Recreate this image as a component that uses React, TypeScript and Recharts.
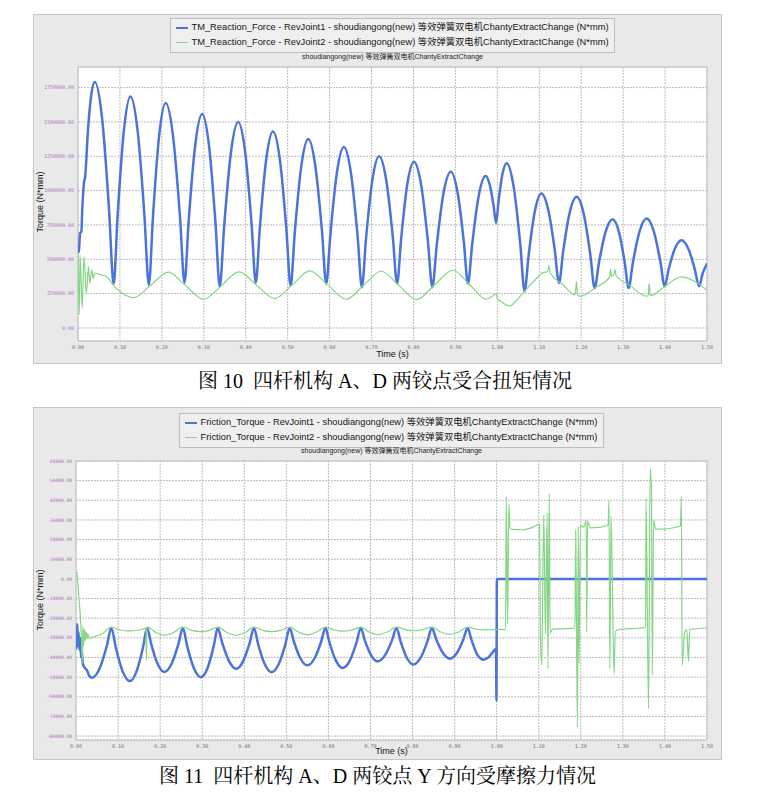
import React from "react";
import { LineChart, Line, XAxis, YAxis, CartesianGrid, ReferenceArea } from "recharts";

type Pt = [number, number];

const timeTicks = [0, 0.1, 0.2, 0.3, 0.4, 0.5, 0.6, 0.7, 0.8, 0.9, 1.0, 1.1, 1.2, 1.3, 1.4, 1.5];
const reactionTicks = [0, 250000, 500000, 750000, 1000000, 1250000, 1500000, 1750000];
const frictionTicks = [-80000, -70000, -60000, -50000, -40000, -30000, -20000, -10000, 0, 10000, 20000, 30000, 40000, 50000, 60000];

const modelName = "shoudiangong(new) 等效弹簧双电机ChantyExtractChange";
const reactionNames = [
  "TM_Reaction_Force - RevJoint1 - shoudiangong(new) 等效弹簧双电机ChantyExtractChange (N*mm)",
  "TM_Reaction_Force - RevJoint2 - shoudiangong(new) 等效弹簧双电机ChantyExtractChange (N*mm)",
];
const frictionNames = [
  "Friction_Torque - RevJoint1 - shoudiangong(new) 等效弹簧双电机ChantyExtractChange (N*mm)",
  "Friction_Torque - RevJoint2 - shoudiangong(new) 等效弹簧双电机ChantyExtractChange (N*mm)",
];
const captions = ["图 10  四杆机构 A、D 两铰点受合扭矩情况", "图 11  四杆机构 A、D 两铰点 Y 方向受摩擦力情况"];

// fig 10, RevJoint1 reaction torque (t, N*mm)
const reactionJoint1: Pt[] = [
  [0, 550000], [0.002, 560000], [0.005, 690000], [0.008, 700000], [0.01, 850000], [0.014, 1050000], [0.017, 1100000],
  [0.024, 1450000], [0.031, 1680000], [0.04, 1790000], [0.058, 1509000], [0.074, 862000], [0.085, 321000],
  [0.0946, 823000], [0.109, 1425000], [0.125, 1686000], [0.1426, 1424000], [0.1584, 818000], [0.169, 313000],
  [0.1786, 801000], [0.193, 1385000], [0.209, 1638000], [0.227, 1388000], [0.2432, 811000], [0.254, 330000],
  [0.264, 782000], [0.2792, 1323000], [0.296, 1557000], [0.3128, 1317000], [0.3279, 763000], [0.338, 301000],
  [0.3486, 742000], [0.3644, 1270000], [0.382, 1499000], [0.3988, 1276000], [0.4139, 760000], [0.424, 330000],
  [0.4338, 735000], [0.4486, 1221000], [0.465, 1431000], [0.4818, 1216000], [0.4969, 720000], [0.507, 306000],
  [0.5171, 699000], [0.5322, 1171000], [0.549, 1375000], [0.5662, 1174000], [0.5817, 710000], [0.592, 323000],
  [0.6021, 689000], [0.6172, 1127000], [0.634, 1317000], [0.6512, 1122000], [0.6667, 672000], [0.677, 297000],
  [0.6868, 648000], [0.7016, 1069000], [0.718, 1251000], [0.7352, 1074000], [0.7507, 665000], [0.761, 323000],
  [0.7706, 649000], [0.785, 1041000], [0.801, 1210000], [0.8186, 1036000], [0.8344, 633000], [0.845, 297000],
  [0.8556, 606000], [0.8714, 977000], [0.889, 1137000], [0.9054, 982000], [0.9202, 623000], [0.93, 323000],
  [0.9401, 611000], [0.9552, 956000], [0.972, 1106000], [0.982, 1041000], [0.991, 891000], [0.997, 765000],
  [1.003, 925000], [1.012, 1117000], [1.022, 1200000], [1.0392, 1022000], [1.0547, 610000], [1.065, 267000],
  [1.0746, 529000], [1.089, 843000], [1.105, 979000], [1.1218, 855000], [1.1369, 568000], [1.147, 328000],
  [1.1571, 559000], [1.1722, 835000], [1.189, 955000], [1.2062, 828000], [1.2217, 535000], [1.232, 291000],
  [1.2423, 475000], [1.2578, 696000], [1.275, 792000], [1.2902, 696000], [1.3039, 475000], [1.313, 291000],
  [1.3233, 477000], [1.3388, 700000], [1.356, 797000], [1.3732, 703000], [1.3887, 485000], [1.399, 304000],
  [1.4086, 427000], [1.423, 575000], [1.439, 639000], [1.4558, 575000], [1.4709, 427000], [1.481, 304000],
  [1.49, 400000], [1.5, 469000],
];

// fig 10, RevJoint2 reaction torque
const reactionJoint2: Pt[] = [
  [0, 549000], [0.003, 95000], [0.005, 530000], [0.01, 143000], [0.014, 520000], [0.02, 253000], [0.025, 447000],
  [0.028, 326000], [0.033, 423000], [0.036, 360000], [0.04, 400000], [0.05, 390000], [0.068, 374000], [0.087, 301000],
  [0.105, 255000], [0.133, 221000], [0.174, 313000], [0.215, 406000], [0.257, 307000], [0.3, 209000], [0.342, 308000],
  [0.384, 408000], [0.426, 311000], [0.469, 214000], [0.511, 314000], [0.553, 415000], [0.596, 312000], [0.64, 209000],
  [0.681, 311000], [0.723, 413000], [0.765, 310000], [0.807, 206000], [0.85, 313000], [0.894, 420000], [0.934, 315000],
  [0.974, 209000], [0.99, 235000], [0.998, 246000], [1.0, 205000], [1.006, 200000], [1.012, 185000], [1.02, 170000],
  [1.03, 160000], [1.045, 200000], [1.065, 267000], [1.087, 340000], [1.109, 403000], [1.12, 410000], [1.123, 452000],
  [1.126, 400000], [1.155, 320000], [1.185, 240000], [1.189, 335000], [1.191, 245000], [1.197, 231000], [1.237, 300000],
  [1.268, 370000], [1.27, 430000], [1.272, 375000], [1.277, 384000], [1.281, 425000], [1.283, 382000], [1.316, 310000],
  [1.356, 231000], [1.36, 240000], [1.362, 323000], [1.365, 235000], [1.398, 300000], [1.439, 372000], [1.47, 340000],
  [1.5, 275000],
];

// fig 11, RevJoint1 friction torque
const frictionJoint1: Pt[] = [
  [0, -36000], [0.001, -24000], [0.002, -35000], [0.003, -23000], [0.004, -33000], [0.006, -27000], [0.008, -36000],
  [0.01, -30000], [0.012, -40000], [0.014, -37000], [0.016, -43000], [0.02, -45000], [0.026, -46500], [0.032, -49500],
  [0.038, -50300], [0.0564, -45500], [0.073, -34300], [0.084, -25000],
  [0.0946, -34900], [0.1104, -46800], [0.128, -52000], [0.1444, -46800], [0.1592, -34900], [0.169, -25000],
  [0.1788, -33200], [0.1936, -43100], [0.21, -47400], [0.2276, -43100], [0.2434, -33200], [0.254, -25000],
  [0.2643, -34200], [0.2798, -45200], [0.297, -50000], [0.313, -45200], [0.3274, -34200], [0.337, -25000],
  [0.3476, -32600], [0.3634, -41700], [0.381, -45700], [0.3978, -41700], [0.4129, -32600], [0.423, -25000],
  [0.4331, -33300], [0.4482, -43200], [0.465, -47500], [0.4822, -43200], [0.4977, -33300], [0.508, -25000],
  [0.5181, -32000], [0.5332, -40400], [0.55, -44000], [0.5672, -40400], [0.5827, -32000], [0.593, -25000],
  [0.6028, -32500], [0.6176, -41500], [0.634, -45400], [0.6512, -41500], [0.6667, -32500], [0.677, -25000],
  [0.6866, -31300], [0.701, -38700], [0.717, -42000], [0.735, -38700], [0.7512, -31300], [0.762, -25000],
  [0.7716, -31800], [0.786, -40000], [0.802, -43600], [0.8196, -40000], [0.8354, -31800], [0.846, -25000],
  [0.8563, -30700], [0.8718, -37600], [0.889, -40600], [0.9058, -37600], [0.9209, -30700], [0.931, -25000],
  [0.9399, -30900], [0.9526, -38000], [0.968, -41100], [0.98, -40000], [0.99, -37500], [0.9985, -35500],
  [0.9995, -62000], [1.0005, 0], [1.5, 0],
];

// fig 11, RevJoint2 friction torque
const frictionJoint2: Pt[] = [
  [0, 3000], [0.002, 3600], [0.004, -1000], [0.007, -10000], [0.01, -18000], [0.013, -30000], [0.015, -43000],
  [0.0165, -24000], [0.018, -34000], [0.02, -25500], [0.022, -31500], [0.024, -27000], [0.026, -30500], [0.028, -28000],
  [0.031, -30000], [0.036, -29800], [0.046, -29200], [0.065, -27500], [0.084, -24500],
  [0.105, -26000], [0.128, -26500], [0.15, -26000], [0.166, -25200], [0.1675, -41400], [0.1685, -25000], [0.169, -24500],
  [0.19, -27300], [0.21, -28700], [0.232, -27300], [0.254, -24500],
  [0.275, -26200], [0.297, -26800], [0.317, -26200], [0.337, -24500],
  [0.359, -27300], [0.381, -28700], [0.402, -27300], [0.423, -24500],
  [0.444, -26200], [0.465, -26800], [0.487, -26200], [0.508, -24500],
  [0.529, -27000], [0.55, -28400], [0.572, -27000], [0.593, -24500],
  [0.614, -26000], [0.634, -26600], [0.656, -26000], [0.677, -24500],
  [0.697, -27000], [0.717, -28400], [0.74, -27000], [0.762, -24500],
  [0.782, -25800], [0.802, -26400], [0.824, -25800], [0.846, -24500],
  [0.867, -27000], [0.889, -28200], [0.91, -27000], [0.931, -24500],
  [0.95, -25500], [0.97, -26000], [0.99, -25800], [1.01, -25700], [1.021, -26000],
  [1.023, 41800], [1.026, -23000], [1.029, 38000], [1.032, 26000], [1.036, 25200], [1.06, 25000], [1.08, 25800],
  [1.102, 27700], [1.104, -28700], [1.107, -44000], [1.112, 32500], [1.116, -28000], [1.12, 33500], [1.122, -45700],
  [1.125, 43500], [1.127, -27500], [1.133, -25600], [1.16, -25400], [1.186, -25000],
  [1.188, 25000], [1.19, -30000], [1.192, -75400], [1.194, 27000], [1.196, -43000], [1.199, 27000], [1.208, 26500],
  [1.213, 30000], [1.214, -27000], [1.216, 29500], [1.222, 26000], [1.245, 26200], [1.265, 27500],
  [1.267, 40000], [1.269, -45700], [1.272, 32000], [1.279, -48700], [1.282, -27000], [1.287, -26000], [1.32, -25300],
  [1.354, -24800], [1.355, 41000], [1.361, -66000], [1.365, 56300], [1.368, 44000], [1.37, -49000], [1.373, 30000],
  [1.378, 25300], [1.4, 25300], [1.43, 26500], [1.437, 26800], [1.439, 42000], [1.441, -44000], [1.447, -27000],
  [1.452, -26000], [1.456, -42000], [1.459, -25800], [1.5, -25000],
];

const BLUE = "#4a74da";
const GREEN = "#84d684";
const PANEL_W = 689;
const PLOT_RIGHT = 15;

const toRows = (s: Pt[]) => s.map(([t, v]) => ({ t, v }));
const fmt = (v: number) => v.toFixed(2);

type PanelProps = {
  top: number;
  height: number;
  marginTop: number;
  yWidth: number;
  xHeight: number;
  domain: [number, number];
  yTicks: number[];
  yFont: number;
  names: string[];
  blue: Pt[];
  green: Pt[];
  legendTop: number;
  subTop: number;
  xTitleTop: number;
  yTitleMid: number;
};

function TorquePanel(p: PanelProps) {
  const plotW = PANEL_W - PLOT_RIGHT - p.yWidth;
  const sans = "'Liberation Sans', Arial, 'Noto Sans CJK SC', sans-serif";
  return (
    <div
      style={{
        position: "absolute",
        left: 33,
        top: p.top,
        width: PANEL_W,
        height: p.height,
        background: "#e9e9e9",
        boxShadow: "inset 0 0 0 1px #c6c6c6",
      }}
    >
      <div style={{ position: "absolute", left: 0, top: 0 }}>
        <LineChart width={PANEL_W} height={p.height} margin={{ top: p.marginTop, right: PLOT_RIGHT, bottom: 0, left: 0 }}>
          <CartesianGrid fill="#ffffff" stroke="#bcbcbc" strokeDasharray="2 1" />
          <XAxis
            type="number"
            dataKey="t"
            domain={[0, 1.5]}
            ticks={timeTicks}
            interval={0}
            allowDataOverflow
            tickFormatter={fmt}
            height={p.xHeight}
            tickLine={false}
            axisLine={false}
            tickSize={0}
            tickMargin={4}
            tick={{ fontSize: 5, fill: "#707070", fontFamily: "'DejaVu Sans Mono', monospace" }}
          />
          <YAxis
            type="number"
            domain={p.domain}
            ticks={p.yTicks}
            interval={0}
            allowDataOverflow
            tickFormatter={fmt}
            width={p.yWidth}
            tickLine={false}
            axisLine={false}
            tickSize={0}
            tickMargin={4}
            tick={{ fontSize: p.yFont, fill: "#b070c0", fontFamily: "'DejaVu Sans Mono', monospace" }}
          />
          <ReferenceArea x1={0} x2={1.5} y1={p.domain[0]} y2={p.domain[1]} fill="none" stroke="#c4c4c4" ifOverflow="visible" />
          <Line data={toRows(p.blue)} dataKey="v" type="monotone" stroke={BLUE} strokeWidth={2.5} dot={false} isAnimationActive={false} />
          <Line data={toRows(p.green)} dataKey="v" type="monotone" stroke={GREEN} strokeWidth={1.2} dot={false} isAnimationActive={false} />
        </LineChart>
      </div>

      {/* legend box */}
      <div style={{ position: "absolute", left: p.yWidth, width: plotW, top: p.legendTop, display: "flex", justifyContent: "center" }}>
        <div
          style={{
            background: "#efefef",
            border: "1px solid #bdbdbd",
            padding: "1px 6px 2px 5px",
            fontFamily: sans,
            fontSize: 9.3,
            lineHeight: "15px",
            color: "#151515",
          }}
        >
          {p.names.map((n, i) => (
            <div key={n} style={{ display: "flex", alignItems: "center", whiteSpace: "nowrap" }}>
              <span style={{ display: "inline-block", width: 12, height: i === 0 ? 2 : 1, background: i === 0 ? BLUE : GREEN, marginRight: 4 }} />
              {n}
            </div>
          ))}
        </div>
      </div>

      <div style={{ position: "absolute", left: p.yWidth, width: plotW, top: p.subTop, textAlign: "center", fontFamily: sans, fontSize: 7, lineHeight: "8px", color: "#222", whiteSpace: "nowrap" }}>
        {modelName}
      </div>

      <div style={{ position: "absolute", left: p.yWidth, width: plotW, top: p.xTitleTop, textAlign: "center", fontFamily: sans, fontSize: 9, lineHeight: "10px", color: "#111" }}>
        Time (s)
      </div>

      <div
        style={{
          position: "absolute",
          left: 7,
          top: p.yTitleMid,
          transform: "translate(-50%, -50%) rotate(-90deg)",
          fontFamily: sans,
          fontSize: 9,
          lineHeight: "10px",
          color: "#111",
          whiteSpace: "nowrap",
        }}
      >
        Torque (N*mm)
      </div>
    </div>
  );
}

export default function App() {
  const serif = "'Liberation Serif', 'Noto Serif CJK SC', 'Noto Sans CJK SC', serif";
  const caption = { position: "absolute" as const, left: 0, textAlign: "center" as const, fontFamily: serif, fontSize: 20, lineHeight: "22px", color: "#000", whiteSpace: "pre" as const };
  return (
    <div style={{ position: "absolute", left: 0, top: 0, width: 770, height: 793, background: "#fff", overflow: "hidden" }}>
      <TorquePanel
        top={14}
        height={350}
        marginTop={53}
        yWidth={45}
        xHeight={23}
        domain={[-95000, 1900000]}
        yTicks={reactionTicks}
        yFont={5}
        names={reactionNames}
        blue={reactionJoint1}
        green={reactionJoint2}
        legendTop={4}
        subTop={39}
        xTitleTop={335}
        yTitleMid={188}
      />
      <div style={{ ...caption, top: 370, width: 770 }}>{captions[0]}</div>

      <TorquePanel
        top={407}
        height={353}
        marginTop={54}
        yWidth={43}
        xHeight={20}
        domain={[-82000, 60000]}
        yTicks={frictionTicks}
        yFont={4.6}
        names={frictionNames}
        blue={frictionJoint1}
        green={frictionJoint2}
        legendTop={6}
        subTop={40}
        xTitleTop={339}
        yTitleMid={193}
      />
      <div style={{ ...caption, top: 765, width: 755 }}>{captions[1]}</div>
    </div>
  );
}
